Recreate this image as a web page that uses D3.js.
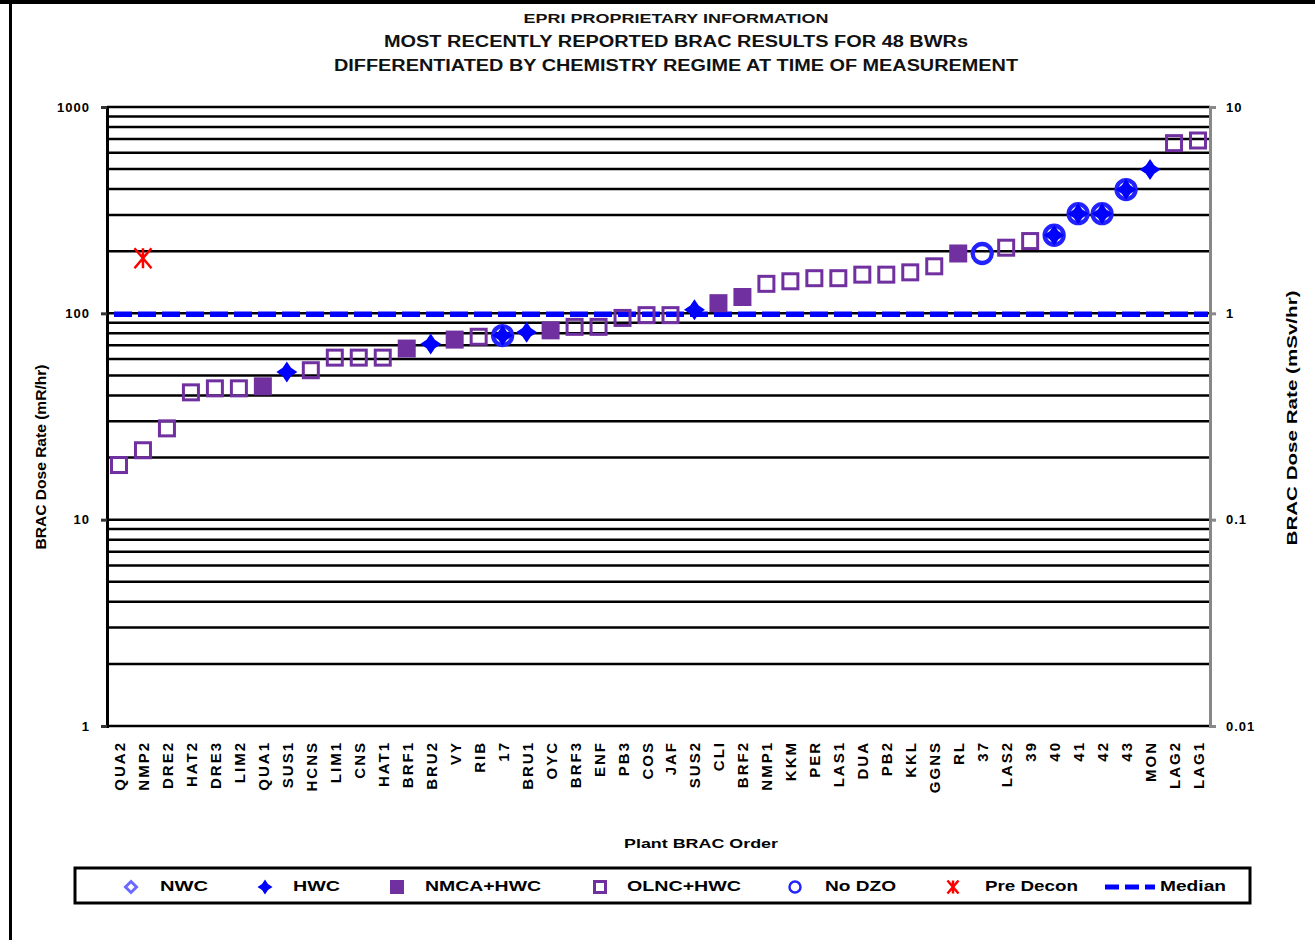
<!DOCTYPE html>
<html>
<head>
<meta charset="utf-8">
<script src="https://cdn.jsdelivr.net/npm/d3@7/dist/d3.min.js"></script>
<style>
  body { margin: 0; background: #fff; }
  text { font-family: "Liberation Sans", Arial, sans-serif; font-weight: bold; }
</style>
</head>
<body>
<script>
// plants in BRAC order
let plants = ["QUA2", "NMP2", "DRE2", "HAT2", "DRE3", "LIM2", "QUA1", "SUS1", "HCNS", "LIM1",
  "CNS", "HAT1", "BRF1", "BRU2", "VY", "RIB", "17", "BRU1", "OYC", "BRF3", "ENF", "PB3", "COS",
  "JAF", "SUS2", "CLI", "BRF2", "NMP1", "KKM", "PER", "LAS1", "DUA", "PB2", "KKL", "GGNS", "RL",
  "37", "LAS2", "39", "40", "41", "42", "43", "MON", "LAG2", "LAG1"];

// dose rates in mR/hr, [plant, value]
let nwcPoints = [];
let hwcPoints = [["SUS1", 52], ["BRU2", 71], ["17", 78], ["BRU1", 81], ["SUS2", 104],
  ["40", 239], ["41", 304], ["42", 304], ["43", 398], ["MON", 498]];
let nmcaPoints = [["QUA1", 44.3], ["BRF1", 67.5], ["VY", 74.6], ["OYC", 82.7], ["CLI", 112],
  ["BRF2", 120], ["RL", 195]];
let olncPoints = [["QUA2", 18.4], ["NMP2", 21.7], ["DRE2", 27.7], ["HAT2", 41.4], ["DRE3", 43.3],
  ["LIM2", 43.3], ["HCNS", 53], ["LIM1", 61], ["CNS", 61], ["HAT1", 61], ["RIB", 77],
  ["BRF3", 86], ["ENF", 86], ["PB3", 95], ["COS", 98], ["JAF", 98], ["NMP1", 139], ["KKM", 143],
  ["PER", 148], ["LAS1", 148], ["DUA", 154], ["PB2", 154], ["KKL", 158], ["GGNS", 169],
  ["LAS2", 208], ["39", 224], ["LAG2", 668], ["LAG1", 688]];
let noDzoPoints = [["17", 78], ["37", 195], ["40", 239], ["41", 304], ["42", 304], ["43", 398]];
let preDeconPoints = [["NMP2", 185]];
let median = 100;

let leftTicks = [1, 10, 100, 1000];
let rightTicks = [0.01, 0.1, 1, 10];
let rightTickLabels = ["0.01", "0.1", "1", "10"];

let legendItems = ["NWC", "HWC", "NMCA+HWC", "OLNC+HWC", "No DZO", "Pre Decon", "Median"];

let width = 1315;
let height = 940;
let plotLeft = 107, plotRight = 1210, plotTop = 107, plotBottom = 726;

let purple = "#7030a0";
let blue = "#0000ff";

let svg = d3.select("body").append("svg")
  .attr("width", width)
  .attr("height", height);

// outer frame (top and left edges visible)
svg.append("rect").attr("x", 0).attr("y", 0).attr("width", width).attr("height", 4).attr("fill", "#000");
svg.append("rect").attr("x", 9).attr("y", 0).attr("width", 3).attr("height", height).attr("fill", "#000");

let x = d3.scaleBand().domain(plants).range([plotLeft, plotRight]);
let cx = (p) => x(p) + x.bandwidth() / 2;
let y = d3.scaleLog().domain([1, 1000]).range([plotBottom, plotTop]);
let yRight = d3.scaleLog().domain([0.01, 10]).range([plotBottom, plotTop]);

// titles
let titles = [
  { t: "EPRI PROPRIETARY INFORMATION", y: 23, size: 12, len: 305 },
  { t: "MOST RECENTLY REPORTED BRAC RESULTS FOR 48 BWRs", y: 47, size: 16, len: 584 },
  { t: "DIFFERENTIATED BY CHEMISTRY REGIME AT TIME OF MEASUREMENT", y: 71, size: 16, len: 684 },
];
svg.selectAll(".title").data(titles).join("text")
  .attr("class", "title")
  .attr("x", 676).attr("y", (d) => d.y)
  .attr("text-anchor", "middle")
  .attr("font-size", (d) => d.size)
  .attr("textLength", (d) => d.len)
  .attr("lengthAdjust", "spacingAndGlyphs")
  .attr("fill", "#111")
  .text((d) => d.t);

// gridlines at every log tick
svg.append("g").selectAll("line").data(y.ticks()).join("line")
  .attr("x1", plotLeft).attr("x2", plotRight)
  .attr("y1", (d) => y(d)).attr("y2", (d) => y(d))
  .attr("stroke", "#000").attr("stroke-width", 2.5);

// left axis
let gl = svg.append("g").attr("transform", `translate(${plotLeft},0)`)
  .call(d3.axisLeft(y).tickValues(leftTicks).tickSize(6).tickFormat(d3.format("d")));
gl.select(".domain").attr("stroke", "#000").attr("stroke-width", 3);
gl.selectAll(".tick line").attr("stroke", "#333").attr("stroke-width", 3);
gl.selectAll(".tick text").attr("font-size", 13).attr("fill", "#000").attr("x", -17)
  .attr("letter-spacing", 1)
  .attr("font-family", "Liberation Sans, Arial, sans-serif").attr("font-weight", "bold");

// right axis
let gr = svg.append("g").attr("transform", `translate(${plotRight},0)`)
  .call(d3.axisRight(yRight).tickValues(rightTicks).tickSize(6)
    .tickFormat((d, i) => rightTickLabels[i]));
gr.select(".domain").attr("stroke", "#888").attr("stroke-width", 3);
gr.selectAll(".tick line").attr("stroke", "#888").attr("stroke-width", 3);
gr.selectAll(".tick text").attr("font-size", 13).attr("fill", "#000").attr("x", 16)
  .attr("letter-spacing", 1)
  .attr("font-family", "Liberation Sans, Arial, sans-serif").attr("font-weight", "bold");

// axis titles
svg.append("text")
  .attr("transform", "translate(46,457) rotate(-90)")
  .attr("text-anchor", "middle").attr("font-size", 14)
  .attr("textLength", 185).attr("lengthAdjust", "spacingAndGlyphs")
  .text("BRAC Dose Rate (mR/hr)");
svg.append("text")
  .attr("transform", "translate(1297,418) rotate(-90)")
  .attr("text-anchor", "middle").attr("font-size", 14)
  .attr("textLength", 255).attr("lengthAdjust", "spacingAndGlyphs")
  .text("BRAC Dose Rate (mSv/hr)");

// category labels
svg.append("g").selectAll("text").data(plants).join("text")
  .attr("transform", (d) => `translate(${cx(d) + 6},741) rotate(-90)`)
  .attr("text-anchor", "end")
  .attr("font-size", 15)
  .attr("letter-spacing", 2)
  .text((d) => d);

svg.append("text")
  .attr("x", 701).attr("y", 848)
  .attr("text-anchor", "middle").attr("font-size", 13)
  .attr("textLength", 154).attr("lengthAdjust", "spacingAndGlyphs")
  .text("Plant BRAC  Order");

// median
svg.append("line")
  .attr("x1", plotLeft + 7).attr("x2", plotRight - 2)
  .attr("y1", y(median) + 1).attr("y2", y(median) + 1)
  .attr("stroke", blue).attr("stroke-width", 5.5)
  .attr("stroke-dasharray", "18,6");

// marker shapes
let starPath = (r, w) => `M0,${-r}L${w},${-w}L${r},0L${w},${w}L0,${r}L${-w},${w}L${-r},0L${-w},${-w}Z`;
let drawHwc = (g, r) => g.append("path").attr("d", starPath(r, r * 0.4)).attr("fill", blue);
let drawNwc = (g, r) => g.append("path").attr("d", `M0,${-r}L${r},0L0,${r}L${-r},0Z`)
  .attr("fill", "none").attr("stroke", "#6a6aff").attr("stroke-width", 3);
let drawNmca = (g, s) => g.append("rect").attr("x", -s / 2).attr("y", -s / 2)
  .attr("width", s).attr("height", s).attr("fill", purple);
let drawOlnc = (g, s) => g.append("rect").attr("x", -s / 2 + 1.5).attr("y", -s / 2 + 1.5)
  .attr("width", s - 3).attr("height", s - 3).attr("fill", "none")
  .attr("stroke", purple).attr("stroke-width", 3);
let drawNoDzo = (g, r) => g.append("circle").attr("r", r).attr("fill", "none")
  .attr("stroke", "#2222ff").attr("stroke-width", r * 0.45);
let drawPre = (g, r) => g.append("path")
  .attr("d", `M${-r * 0.85},${-r}L${r * 0.85},${r}M${r * 0.85},${-r}L${-r * 0.85},${r}M0,${-r}L0,${r}`)
  .attr("stroke", "#ff0000").attr("stroke-width", 2.5).attr("fill", "none");

let plotSeries = (points, draw, size) => {
  points.forEach((d) => {
    let g = svg.append("g").attr("transform", `translate(${cx(d[0])},${y(d[1])})`);
    draw(g, size);
  });
};

plotSeries(nwcPoints, drawNwc, 8);
plotSeries(olncPoints, drawOlnc, 18);
plotSeries(nmcaPoints, drawNmca, 18);
plotSeries(noDzoPoints, drawNoDzo, 9.5);
plotSeries(hwcPoints, drawHwc, 10.5);
plotSeries(preDeconPoints, drawPre, 10);

// legend
svg.append("rect")
  .attr("x", 75).attr("y", 868).attr("width", 1175).attr("height", 35)
  .attr("fill", "none").attr("stroke", "#000").attr("stroke-width", 3);

let legendMarkX = [131, 265, 397, 600, 795, 953, 1130];
let legendTextX = [160, 293, 425, 627, 825, 985, 1160];
let legendTextW = [48, 47, 116, 114, 71, 93, 66];
let legendDraw = [
  (g) => drawNwc(g, 5.5),
  (g) => drawHwc(g, 7.5),
  (g) => drawNmca(g, 14),
  (g) => drawOlnc(g, 14),
  (g) => drawNoDzo(g, 5.5),
  (g) => drawPre(g, 6.5),
  (g) => g.append("line").attr("x1", -25).attr("x2", 25)
    .attr("stroke", blue).attr("stroke-width", 5).attr("stroke-dasharray", "14,6"),
];
legendItems.forEach((name, i) => {
  let g = svg.append("g").attr("transform", `translate(${legendMarkX[i]},887)`);
  legendDraw[i](g);
  svg.append("text")
    .attr("x", legendTextX[i]).attr("y", 891)
    .attr("font-size", 14)
    .attr("font-weight", "normal")
    .attr("textLength", legendTextW[i]).attr("lengthAdjust", "spacingAndGlyphs")
    .text(name);
});
</script>
</body>
</html>
